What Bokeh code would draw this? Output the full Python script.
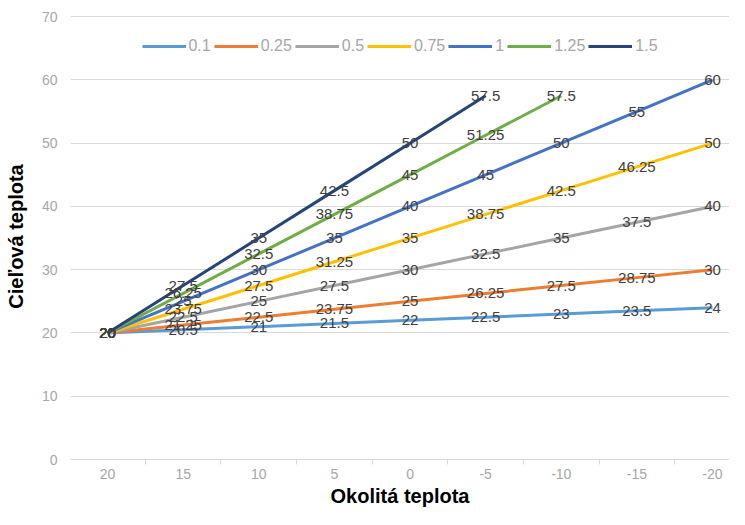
from bokeh.plotting import figure
from bokeh.models import (ColumnDataSource, Range1d, FixedTicker, Legend, LegendItem)
from bokeh.core.properties import value
from bokeh.embed import file_html
from bokeh.resources import INLINE

# ---- data ----
outside_temps = ["20", "15", "10", "5", "0", "-5", "-10", "-15", "-20"]
series_names = ["0.1", "0.25", "0.5", "0.75", "1", "1.25", "1.5"]
s_01 = [20, 20.5, 21, 21.5, 22, 22.5, 23, 23.5, 24]
s_025 = [20, 21.25, 22.5, 23.75, 25, 26.25, 27.5, 28.75, 30]
s_05 = [20, 22.5, 25, 27.5, 30, 32.5, 35, 37.5, 40]
s_075 = [20, 23.75, 27.5, 31.25, 35, 38.75, 42.5, 46.25, 50]
s_1 = [20, 25, 30, 35, 40, 45, 50, 55, 60]
s_125 = [20, 26.25, 32.5, 38.75, 45, 51.25, 57.5]
s_15 = [20, 27.5, 35, 42.5, 50, 57.5]
y_ticks = [0, 10, 20, 30, 40, 50, 60, 70]

series_values = [s_01, s_025, s_05, s_075, s_1, s_125, s_15]
colors = ["#5B9BD5", "#ED7D31", "#A5A5A5", "#FFC000", "#4472C4", "#70AD47", "#264478"]

FONT = "Liberation Sans"

p = figure(width=729, height=509, output_backend="svg", toolbar_location=None,
           x_range=Range1d(-0.49, 8.225), y_range=Range1d(0, 70.5),
           min_border_left=70, min_border_right=0, min_border_top=13,
           min_border_bottom=40)
p.outline_line_color = None
p.background_fill_color = "white"
p.border_fill_color = "white"

# grid
p.xgrid.grid_line_color = None
p.ygrid.grid_line_color = "#d9d9d9"
p.ygrid.grid_line_width = 1
p.ygrid.ticker = FixedTicker(ticks=y_ticks)

# y axis
p.yaxis.ticker = FixedTicker(ticks=y_ticks)
p.yaxis.axis_line_color = None
p.yaxis.major_tick_line_color = None
p.yaxis.minor_tick_line_color = None
p.yaxis.major_tick_out = 0
p.yaxis.major_label_text_color = "#a6a6a6"
p.yaxis.major_label_text_font = FONT
p.yaxis.major_label_text_font_size = "14px"
p.yaxis.major_label_standoff = 13
p.yaxis.axis_label = "Cieľová teplota"
p.yaxis.axis_label_text_font = FONT
p.yaxis.axis_label_text_font_style = "bold"
p.yaxis.axis_label_text_font_size = "20px"
p.yaxis.axis_label_text_color = "#000000"
p.yaxis.axis_label_standoff = 12

# x axis
idx = list(range(len(outside_temps)))
p.xaxis.ticker = FixedTicker(ticks=idx, minor_ticks=[i - 0.5 for i in idx] + [len(idx) - 0.5])
p.xaxis.major_label_overrides = {i: t for i, t in enumerate(outside_temps)}
p.xaxis.axis_line_color = "#d9d9d9"
p.xaxis.major_tick_line_color = None
p.xaxis.major_tick_out = 0
p.xaxis.minor_tick_line_color = "#d9d9d9"
p.xaxis.minor_tick_in = 0
p.xaxis.minor_tick_out = 5
p.xaxis.major_label_text_color = "#a6a6a6"
p.xaxis.major_label_text_font = FONT
p.xaxis.major_label_text_font_size = "14px"
p.xaxis.major_label_standoff = 4
p.xaxis.axis_label = "Okolitá teplota"
p.xaxis.axis_label_text_font = FONT
p.xaxis.axis_label_text_font_style = "bold"
p.xaxis.axis_label_text_font_size = "20px"
p.xaxis.axis_label_text_color = "#000000"
p.xaxis.axis_label_standoff = 3

def fmt(v):
    return f"{v:g}"

renderers = []
sources = []
for name, vals, col in zip(series_names, series_values, colors):
    src = ColumnDataSource(dict(x=list(range(len(vals))), y=vals,
                                label=[fmt(v) for v in vals]))
    r = p.line("x", "y", source=src, line_color=col, line_width=3)
    renderers.append(r)
    sources.append(src)

for src in sources:
    p.text("x", "y", text="label", source=src, text_align="center",
           text_baseline="middle", text_color="#404040",
           text_font=value(FONT), text_font_size="15px")

legend = Legend(items=[LegendItem(label=n, renderers=[r]) for n, r in zip(series_names, renderers)],
                location="top_center", orientation="horizontal")
legend.margin = 24
legend.padding = 2
legend.spacing = 3
legend.glyph_width = 44
legend.glyph_height = 18
legend.label_standoff = 3
legend.label_width = 8
legend.label_text_font = FONT
legend.label_text_font_size = "16px"
legend.label_text_color = "#a6a6a6"
legend.border_line_color = None
legend.background_fill_alpha = 0
p.add_layout(legend, "center")

open("out.html", "w").write(file_html(p, INLINE))
